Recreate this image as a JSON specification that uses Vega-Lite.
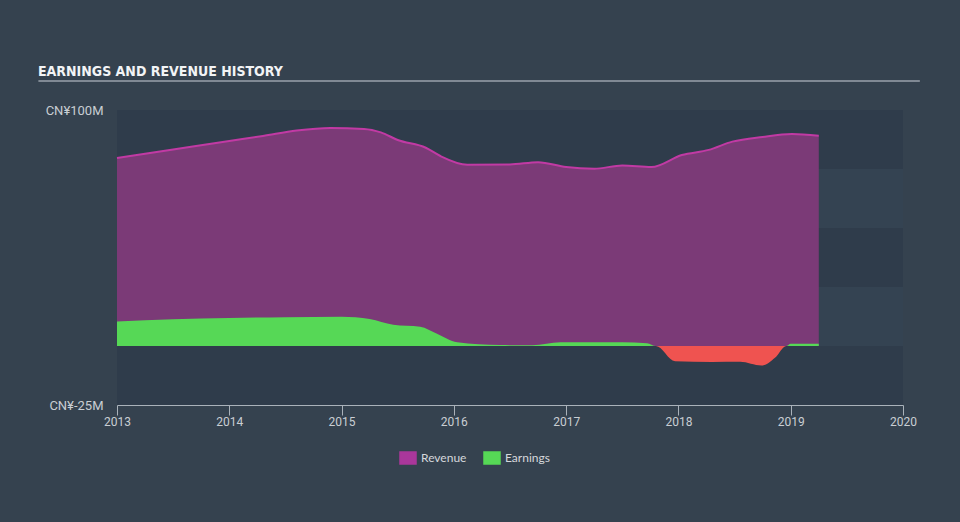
{
  "$schema": "https://vega.github.io/schema/vega-lite/v6.json",
  "width": 786,
  "height": 295,
  "autosize": {"type": "none"},
  "padding": {"left": 117, "top": 110, "right": 57, "bottom": 117},
  "background": "#35424f",
  "view": {"fill": "#344352", "stroke": null},
  "title": {
    "text": "EARNINGS AND REVENUE HISTORY",
    "anchor": "start",
    "frame": "group",
    "dx": -79,
    "offset": 36,
    "dy": 46,
    "baseline": "alphabetic",
    "font": "DejaVu Sans Condensed, Roboto, sans-serif",
    "fontSize": 14,
    "fontWeight": "bold",
    "color": "#f2f4f6"
  },
  "config": {
    "axis": {"labelFont": "Roboto", "labelColor": "#c9ced3", "labelFontSize": 12, "grid": false, "title": null},
    "legend": {"labelFont": "Lato", "labelColor": "#d5d8dc", "labelFontSize": 12}
  },
  "datasets": {
    "bands": [
      {"lo": 75, "hi": 100},
      {"lo": 25, "hi": 50},
      {"lo": -25, "hi": 0}
    ],
    "revenue": [
      {"year": 2013.0, "value": 79.7, "series": "Revenue"},
      {"year": 2013.5, "value": 83.3, "series": "Revenue"},
      {"year": 2014.0, "value": 86.9, "series": "Revenue"},
      {"year": 2014.3, "value": 89.0, "series": "Revenue"},
      {"year": 2014.6, "value": 91.3, "series": "Revenue"},
      {"year": 2014.9, "value": 92.4, "series": "Revenue"},
      {"year": 2015.2, "value": 92.0, "series": "Revenue"},
      {"year": 2015.35, "value": 90.5, "series": "Revenue"},
      {"year": 2015.5, "value": 87.3, "series": "Revenue"},
      {"year": 2015.75, "value": 84.0, "series": "Revenue"},
      {"year": 2015.88, "value": 80.5, "series": "Revenue"},
      {"year": 2016.12, "value": 76.8, "series": "Revenue"},
      {"year": 2016.5, "value": 76.9, "series": "Revenue"},
      {"year": 2016.75, "value": 77.9, "series": "Revenue"},
      {"year": 2017.0, "value": 75.8, "series": "Revenue"},
      {"year": 2017.25, "value": 75.1, "series": "Revenue"},
      {"year": 2017.5, "value": 76.5, "series": "Revenue"},
      {"year": 2017.76, "value": 75.8, "series": "Revenue"},
      {"year": 2018.03, "value": 80.9, "series": "Revenue"},
      {"year": 2018.27, "value": 83.1, "series": "Revenue"},
      {"year": 2018.48, "value": 86.6, "series": "Revenue"},
      {"year": 2018.75, "value": 88.6, "series": "Revenue"},
      {"year": 2019.01, "value": 89.8, "series": "Revenue"},
      {"year": 2019.25, "value": 89.1, "series": "Revenue"}
    ],
    "earnings": [
      {"year": 2013.0, "value": 10.4, "series": "Earnings", "segment": "a"},
      {"year": 2013.5, "value": 11.3, "series": "Earnings", "segment": "a"},
      {"year": 2014.0, "value": 11.9, "series": "Earnings", "segment": "a"},
      {"year": 2014.5, "value": 12.2, "series": "Earnings", "segment": "a"},
      {"year": 2015.0, "value": 12.4, "series": "Earnings", "segment": "a"},
      {"year": 2015.25, "value": 11.4, "series": "Earnings", "segment": "a"},
      {"year": 2015.46, "value": 9.0, "series": "Earnings", "segment": "a"},
      {"year": 2015.7, "value": 8.2, "series": "Earnings", "segment": "a"},
      {"year": 2015.85, "value": 5.2, "series": "Earnings", "segment": "a"},
      {"year": 2016.03, "value": 1.6, "series": "Earnings", "segment": "a"},
      {"year": 2016.41, "value": 0.4, "series": "Earnings", "segment": "a"},
      {"year": 2016.7, "value": 0.3, "series": "Earnings", "segment": "a"},
      {"year": 2016.95, "value": 1.6, "series": "Earnings", "segment": "a"},
      {"year": 2017.5, "value": 1.6, "series": "Earnings", "segment": "a"},
      {"year": 2017.72, "value": 1.2, "series": "Earnings", "segment": "a"},
      {"year": 2017.8, "value": 0.0, "series": "Earnings", "segment": "a"},
      {"year": 2017.8, "value": 0.0, "series": "Loss", "segment": "b"},
      {"year": 2017.97, "value": -6.5, "series": "Loss", "segment": "b"},
      {"year": 2018.3, "value": -6.8, "series": "Loss", "segment": "b"},
      {"year": 2018.55, "value": -6.7, "series": "Loss", "segment": "b"},
      {"year": 2018.74, "value": -8.3, "series": "Loss", "segment": "b"},
      {"year": 2018.86, "value": -5.0, "series": "Loss", "segment": "b"},
      {"year": 2018.96, "value": 0.0, "series": "Loss", "segment": "b"},
      {"year": 2018.96, "value": 0.0, "series": "Earnings", "segment": "c"},
      {"year": 2019.0, "value": 1.0, "series": "Earnings", "segment": "c"},
      {"year": 2019.25, "value": 1.0, "series": "Earnings", "segment": "c"}
    ],
    "underline": [
      {"x1": 2012.3, "x2": 2020.15, "y": 112.3}
    ]
  },
  "layer": [
    {
      "data": {"name": "bands"},
      "mark": {"type": "rect", "fill": "#2f3c4b"},
      "encoding": {
        "y": {"field": "lo", "type": "quantitative", "scale": {"domain": [-25, 100], "nice": false, "zero": false}, "axis": {"values": [-25, 100], "labelExpr": "datum.value == 100 ? 'CN¥100M' : 'CN¥-25M'", "domain": false, "ticks": false, "labelPadding": 14, "labelFontSize": 13}},
        "y2": {"field": "hi"}
      }
    },
    {
      "data": {"name": "revenue"},
      "mark": {"type": "area", "interpolate": "monotone", "fill": "#7b3a77", "fillOpacity": 1, "line": {"stroke": "#c13aa4", "strokeWidth": 2}},
      "encoding": {
        "x": {"field": "year", "type": "quantitative", "scale": {"domain": [2013, 2020], "nice": false, "zero": false}, "axis": {"values": [2013, 2014, 2015, 2016, 2017, 2018, 2019, 2020], "format": "d", "labelFlush": false, "labelOverlap": false, "domainColor": "#aab2ba", "tickColor": "#aab2ba", "tickSize": 10, "labelPadding": 1}},
        "y": {"field": "value", "type": "quantitative"},
        "color": {"field": "series", "type": "nominal", "scale": {"domain": ["Revenue", "Earnings", "Loss"], "range": ["#aa379b", "#56d856", "#ef5350"]}, "legend": {"values": ["Revenue", "Earnings"], "title": null, "orient": "none", "legendX": 282, "legendY": 339, "direction": "horizontal", "symbolType": "M-1,-0.75H1V0.75H-1Z", "symbolSize": 256, "symbolOpacity": 1, "columnPadding": 14, "labelOffset": 4}}
      }
    },
    {
      "data": {"name": "earnings"},
      "mark": {"type": "area", "interpolate": "monotone", "fillOpacity": 1},
      "encoding": {
        "x": {"field": "year", "type": "quantitative"},
        "y": {"field": "value", "type": "quantitative"},
        "color": {"field": "series", "type": "nominal"},
        "detail": {"field": "segment"}
      }
    },
    {
      "mark": {"type": "rule", "color": "#c4c6c4", "strokeWidth": 1.5},
      "encoding": {"y": {"datum": 0}}
    },
    {
      "data": {"name": "underline"},
      "mark": {"type": "rule", "color": "#9aa2ab", "strokeWidth": 1.5},
      "encoding": {
        "x": {"field": "x1", "type": "quantitative"},
        "x2": {"field": "x2"},
        "y": {"field": "y", "type": "quantitative"}
      }
    }
  ]
}
